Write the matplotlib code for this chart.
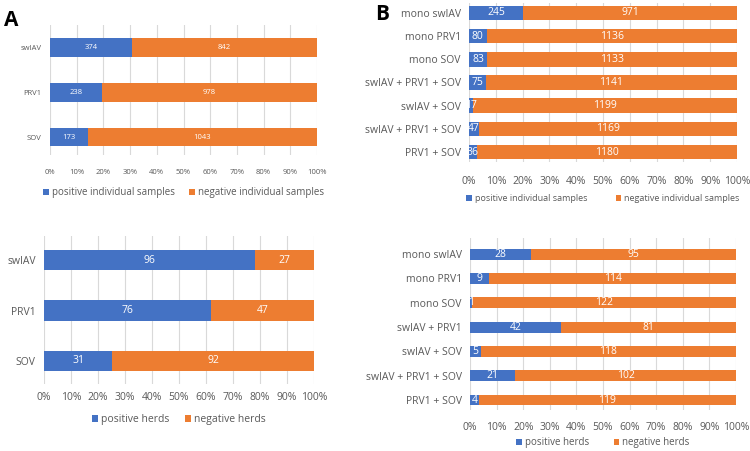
import numpy as np
import matplotlib
matplotlib.use("Agg")
import matplotlib.pyplot as plt

plt.rcParams['font.family'] = ['Open Sans', 'DejaVu Sans']

BLUE = '#4472C4'
ORANGE = '#ED7D31'
GRAY = '#595959'

# panel A, individual samples
a_cats = ['swIAV', 'PRV1', 'SOV']
a_pos = [374, 238, 173]
a_neg = [842, 978, 1043]

# panel A, herds
ah_cats = ['swIAV', 'PRV1', 'SOV']
ah_pos = [96, 76, 31]
ah_neg = [27, 47, 92]

# panel B, individual samples
b_cats = ['mono swIAV', 'mono PRV1', 'mono SOV', 'swIAV + PRV1 + SOV',
          'swIAV + SOV', 'swIAV + PRV1 + SOV', 'PRV1 + SOV']
b_pos = [245, 80, 83, 75, 17, 47, 36]
b_neg = [971, 1136, 1133, 1141, 1199, 1169, 1180]

# panel B, herds
bh_cats = ['mono swIAV', 'mono PRV1', 'mono SOV', 'swIAV + PRV1',
           'swIAV + SOV', 'swIAV + PRV1 + SOV', 'PRV1 + SOV']
bh_pos = [28, 9, 1, 42, 5, 21, 4]
bh_neg = [95, 114, 122, 81, 118, 102, 119]

W, H = 750, 451
fig = plt.figure(figsize=(7.5, 4.51), dpi=100)


def px_axes(x0, y0, x1, y1):
    return fig.add_axes([x0 / W, 1 - y1 / H, (x1 - x0) / W, (y1 - y0) / H])


def stacked(ax, cats, pos, neg, ylim, bh, fs, lfs, labels, leg_y, leg_fs, xgap,
            colsp=1.5):
    pos = np.array(pos, float)
    neg = np.array(neg, float)
    tot = pos + neg
    p = pos / tot * 100
    n = neg / tot * 100
    y = np.arange(len(cats))
    ax.barh(y, p, height=bh, color=BLUE, label=labels[0], zorder=3)
    ax.barh(y, n, left=p, height=bh, color=ORANGE, label=labels[1], zorder=3)
    for i in range(len(cats)):
        ax.text(p[i] / 2, y[i], str(int(pos[i])), color='white', ha='center',
                va='center', fontsize=lfs, zorder=4)
        ax.text(p[i] + n[i] / 2, y[i], str(int(neg[i])), color='white',
                ha='center', va='center', fontsize=lfs, zorder=4)
    ax.set_xlim(0, 100)
    ax.set_ylim(*ylim)
    ax.set_yticks(y)
    ax.set_yticklabels(cats)
    ax.set_xticks(np.arange(0, 101, 10))
    ax.set_xticklabels(['%d%%' % v for v in range(0, 101, 10)])
    ax.tick_params(length=0, labelsize=fs, colors=GRAY)
    ax.tick_params(axis='x', pad=xgap)
    ax.tick_params(axis='y', pad=6)
    ax.grid(axis='x', color='#D9D9D9', linewidth=0.8, zorder=0)
    for s in ax.spines.values():
        s.set_visible(False)
    ax.legend(loc='center', bbox_to_anchor=(0.5, leg_y), ncol=2, frameon=False,
              fontsize=leg_fs, handlelength=0.6, handleheight=0.6,
              handletextpad=0.3, columnspacing=colsp, labelcolor=GRAY)


ax1 = px_axes(50, 25, 317, 155)
stacked(ax1, a_cats, a_pos, a_neg, (2.4, -0.5), 0.42, 5.5, 5.5,
        ['positive individual samples', 'negative individual samples'],
        -0.29, 7, 10)

ax2 = px_axes(44, 236, 314, 384)
stacked(ax2, ah_cats, ah_pos, ah_neg, (2.46, -0.48), 0.4, 7.5, 7.5,
        ['positive herds', 'negative herds'], -0.24, 7.5, 6)

ax3 = px_axes(469, 3, 737, 162)
stacked(ax3, b_cats, b_pos, b_neg, (6.43, -0.43), 0.62, 7.5, 7.5,
        ['positive individual samples', 'negative individual samples'],
        -0.23, 6.5, 10, colsp=3.2)

ax4 = px_axes(470, 238, 736, 410)
stacked(ax4, bh_cats, bh_pos, bh_neg, (6.41, -0.66), 0.45, 7.5, 7.5,
        ['positive herds', 'negative herds'], -0.19, 7, 9, colsp=2.5)

fig.text(4 / W, 1 - 20 / H, 'A', fontsize=15, fontweight='bold', va='center')
fig.text(375 / W, 1 - 15 / H, 'B', fontsize=15, fontweight='bold', va='center')

fig.savefig('out.png', dpi=100)
